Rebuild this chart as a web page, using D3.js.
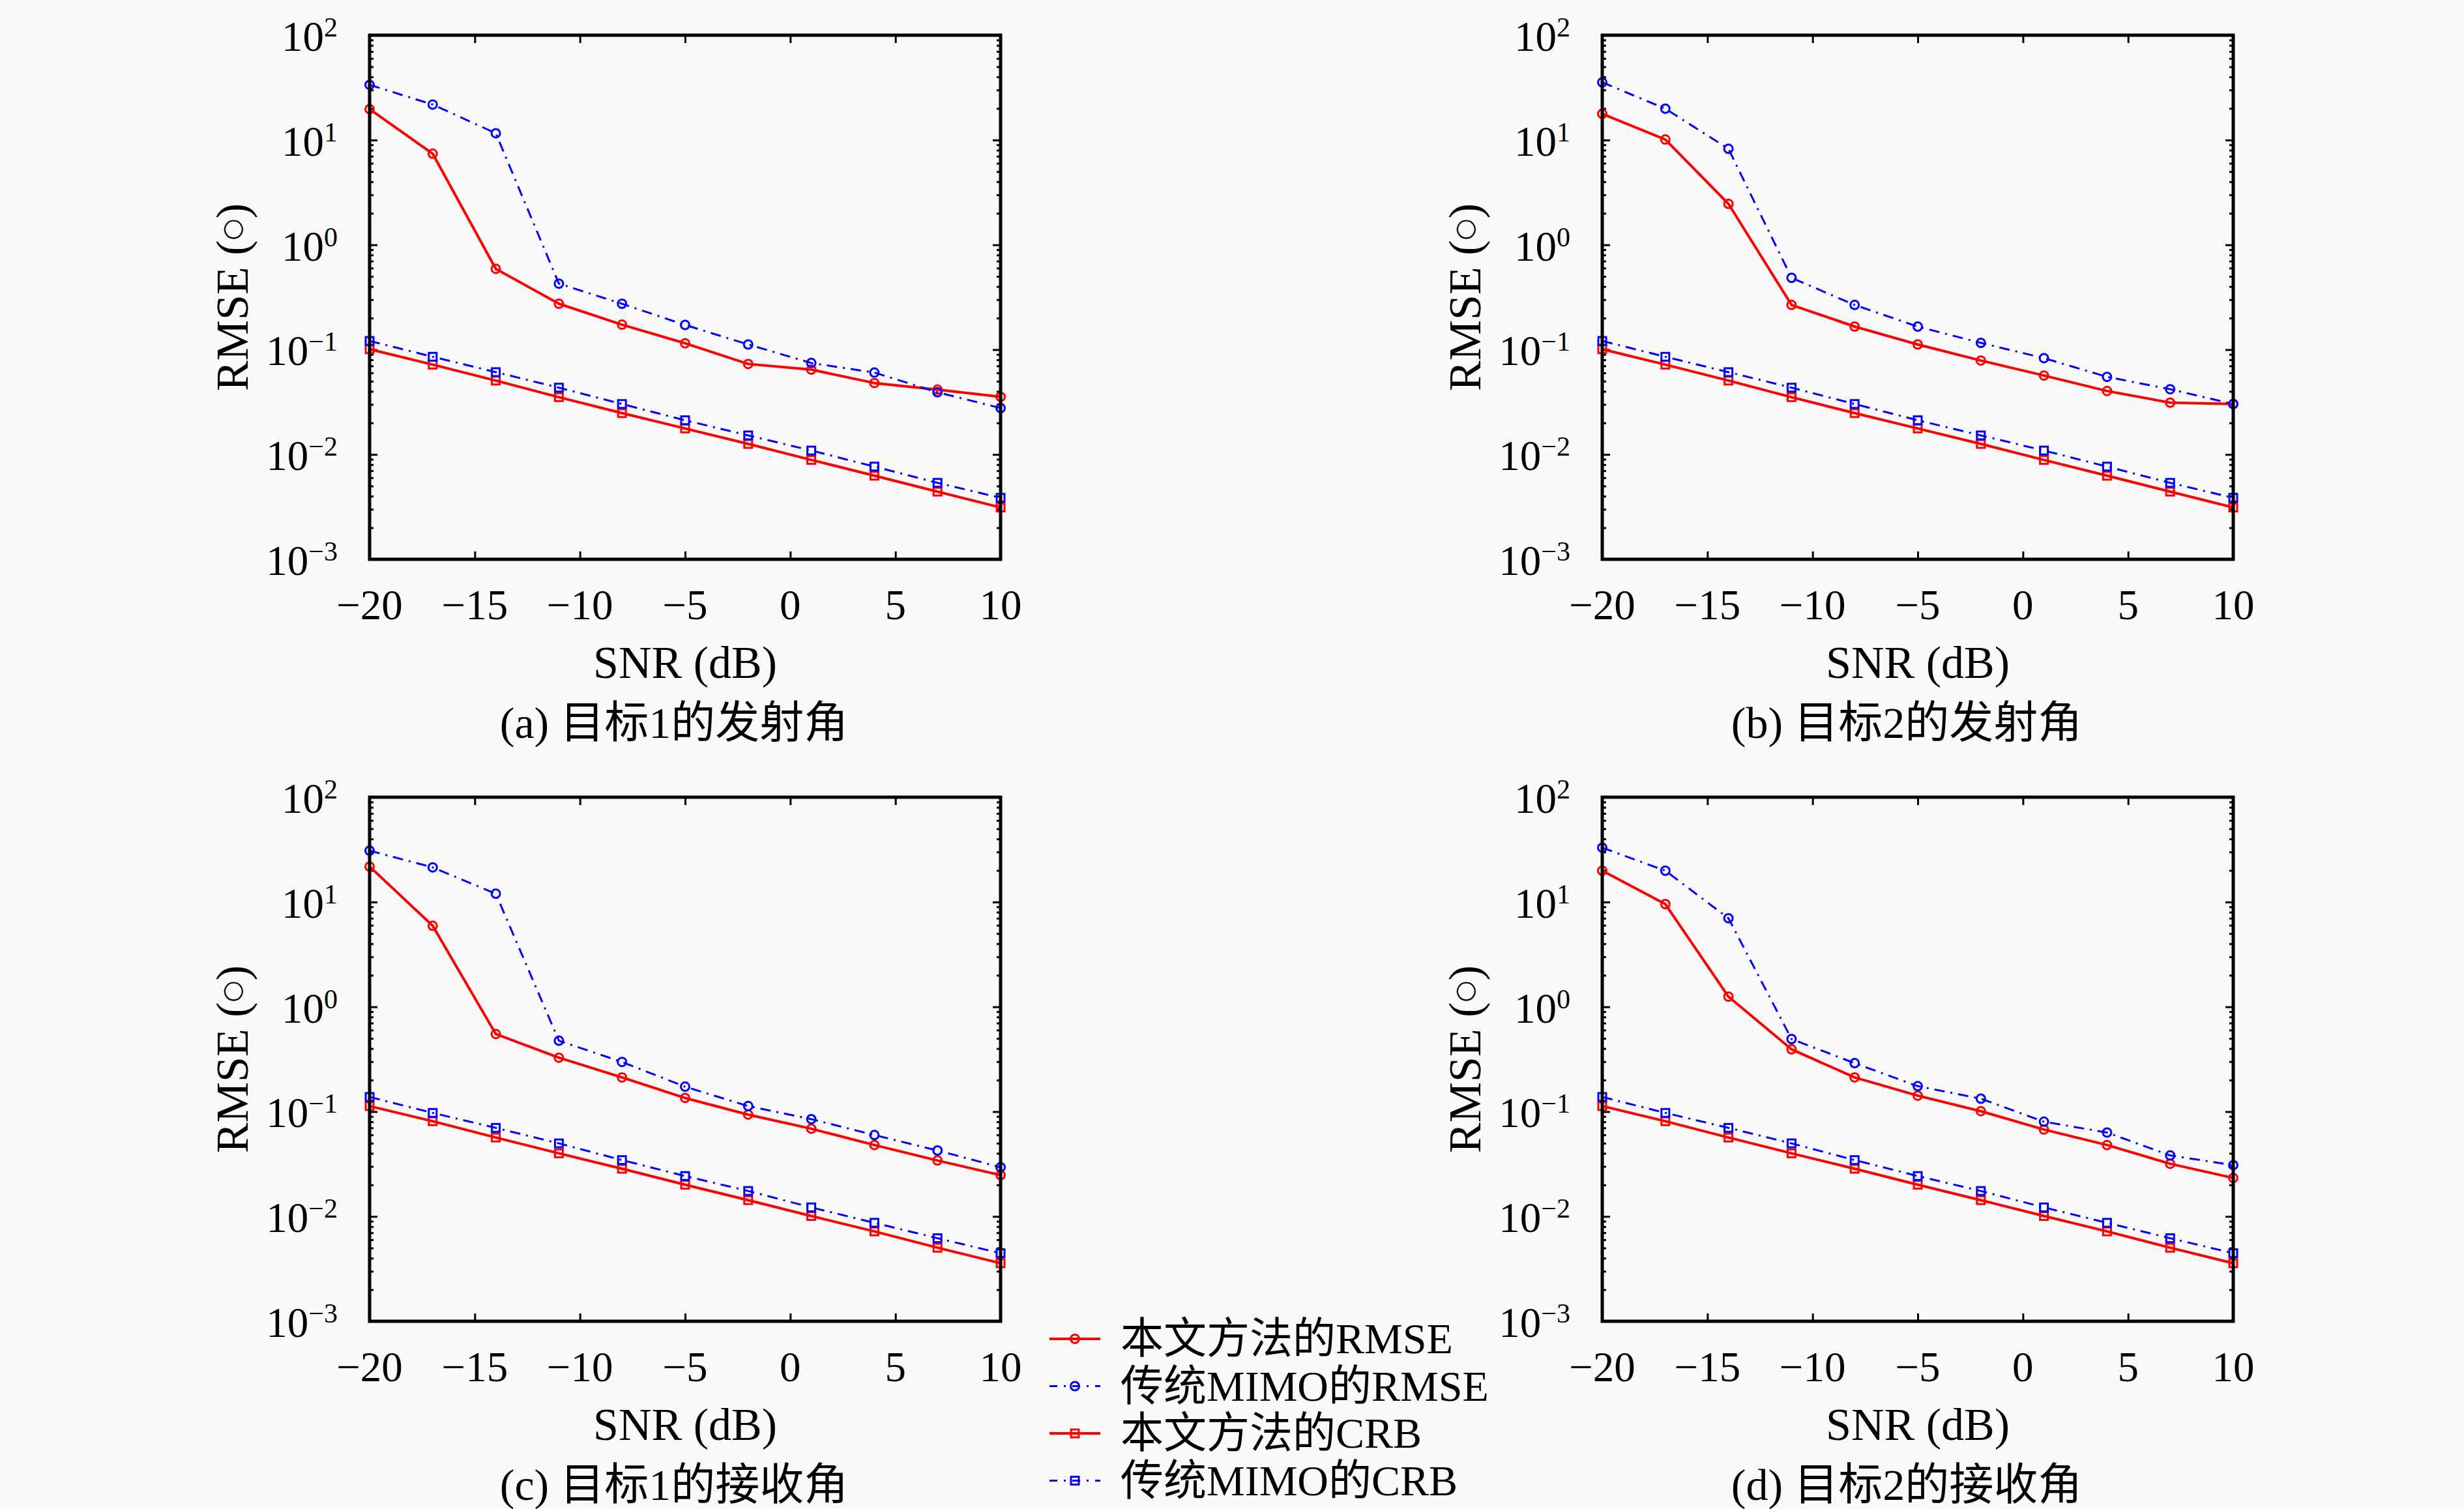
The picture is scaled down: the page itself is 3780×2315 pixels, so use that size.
<!DOCTYPE html>
<html>
<head>
<meta charset="utf-8">
<script src="https://cdn.jsdelivr.net/npm/d3@7"></script>
<style>
  body { margin: 0; background: #f9f9f9; }
  text { font-family: "Liberation Serif", "Noto Sans CJK SC", serif; fill: #000; }
</style>
</head>
<body>
<div id="chart"></div>
<script>
// SNR points (dB)
const snr = [-20, -17, -14, -11, -8, -5, -2, 1, 4, 7, 10];

// (a) target 1, transmit angle
const aOursRmse = [19.7, 7.4, 0.59, 0.274, 0.173, 0.115, 0.073, 0.0645, 0.048, 0.0415, 0.0355];
const aMimoRmse = [33.6, 21.8, 11.6, 0.426, 0.274, 0.172, 0.112, 0.0746, 0.0604, 0.0392, 0.0277];
// (b) target 2, transmit angle
const bOursRmse = [17.8, 10.1, 2.46, 0.267, 0.166, 0.112, 0.0787, 0.0566, 0.0403, 0.0312, 0.0303];
const bMimoRmse = [35.5, 19.9, 8.24, 0.484, 0.267, 0.166, 0.116, 0.083, 0.055, 0.0419, 0.0303];
// CRB for transmit angle (a, b)
const txOursCrb = [0.101, 0.072, 0.0507, 0.0352, 0.0248, 0.0177, 0.0126, 0.00887, 0.00627, 0.00442, 0.00312];
const txMimoCrb = [0.121, 0.0855, 0.061, 0.0434, 0.0303, 0.0212, 0.0152, 0.0109, 0.00766, 0.00536, 0.00386];
// (c) target 1, receive angle
const cOursRmse = [21.8, 5.93, 0.55, 0.327, 0.212, 0.135, 0.0937, 0.0687, 0.048, 0.0342, 0.0248];
const cMimoRmse = [30.9, 21.4, 12.0, 0.475, 0.298, 0.173, 0.113, 0.0848, 0.0598, 0.0426, 0.0295];
// (d) target 2, receive angle
const dOursRmse = [19.9, 9.55, 1.25, 0.393, 0.212, 0.142, 0.101, 0.0675, 0.048, 0.0318, 0.0233];
const dMimoRmse = [33.0, 19.9, 7.0, 0.493, 0.29, 0.175, 0.133, 0.0802, 0.0632, 0.0382, 0.0309];
// CRB for receive angle (c, d)
const rxOursCrb = [0.113, 0.081, 0.0566, 0.04, 0.0285, 0.0201, 0.0143, 0.0101, 0.0072, 0.00503, 0.00358];
const rxMimoCrb = [0.138, 0.0973, 0.07, 0.0498, 0.0345, 0.0243, 0.0175, 0.0122, 0.0087, 0.0062, 0.00446];

const xTicks = [-20, -15, -10, -5, 0, 5, 10];
const yTickExps = [2, 1, 0, -1, -2, -3];
const captions = ["(a) 目标1的发射角", "(b) 目标2的发射角", "(c) 目标1的接收角", "(d) 目标2的接收角"];
const legendLabels = ["本文方法的RMSE", "传统MIMO的RMSE", "本文方法的CRB", "传统MIMO的CRB"];
const xTitle = "SNR (dB)";
const yTitle = ["RMSE (", "\u25CB", ")"];

const W = 3780, H = 2315;
const red = "#ff0000", blue = "#0000ff";
const dashDot = "16,9,3,9";

// style of each series, in legend order
const styles = [
    {color: red, dash: null, marker: "circle", width: 4},
    {color: blue, dash: dashDot, marker: "circle", width: 3},
    {color: red, dash: null, marker: "square", width: 4},
    {color: blue, dash: dashDot, marker: "square", width: 3}
];

const panels = [
    {left: 567, top: 54, series: [aOursRmse, aMimoRmse, txOursCrb, txMimoCrb], caption: captions[0]},
    {left: 2458, top: 54, series: [bOursRmse, bMimoRmse, txOursCrb, txMimoCrb], caption: captions[1]},
    {left: 567, top: 1223, series: [cOursRmse, cMimoRmse, rxOursCrb, rxMimoCrb], caption: captions[2]},
    {left: 2458, top: 1223, series: [dOursRmse, dMimoRmse, rxOursCrb, rxMimoCrb], caption: captions[3]}
];
const pw = 968, ph = 804;

const svg = d3.select("#chart").append("svg")
    .attr("width", W)
    .attr("height", H)
    .style("background", "#f9f9f9");

function drawMarker(g, type, cx, cy, color) {
    if (type == "circle") {
        g.append("circle")
            .attr("cx", cx).attr("cy", cy).attr("r", 6.5)
            .attr("fill", "none")
            .attr("stroke", color).attr("stroke-width", 3);
    } else {
        g.append("rect")
            .attr("x", cx - 6).attr("y", cy - 6)
            .attr("width", 12).attr("height", 12)
            .attr("fill", "none")
            .attr("stroke", color).attr("stroke-width", 3);
    }
}

// minor log ticks 2..9 x 10^k
const minorTicks = [];
for (let k = -3; k < 2; k++) {
    for (let m = 2; m < 10; m++) minorTicks.push(m * Math.pow(10, k));
}

panels.forEach(function (p) {
    const g = svg.append("g").attr("transform", "translate(" + p.left + "," + p.top + ")");
    const x = d3.scaleLinear().domain([-20, 10]).range([0, pw]);
    const y = d3.scaleLog().domain([1e-3, 1e2]).range([ph, 0]);

    // ticks, pointing inward
    const axes = [
        {gen: d3.axisBottom(x).tickValues(xTicks), tr: "translate(0," + ph + ")", size: -12},
        {gen: d3.axisTop(x).tickValues(xTicks), tr: "translate(0,0)", size: -12},
        {gen: d3.axisLeft(y).tickValues(yTickExps.map(e => Math.pow(10, e))), tr: "translate(0,0)", size: -12},
        {gen: d3.axisRight(y).tickValues(yTickExps.map(e => Math.pow(10, e))), tr: "translate(" + pw + ",0)", size: -12},
        {gen: d3.axisLeft(y).tickValues(minorTicks), tr: "translate(0,0)", size: -6},
        {gen: d3.axisRight(y).tickValues(minorTicks), tr: "translate(" + pw + ",0)", size: -6}
    ];
    axes.forEach(function (a) {
        const ax = g.append("g")
            .attr("transform", a.tr)
            .call(a.gen.tickSize(a.size).tickFormat(""));
        ax.select(".domain").remove();
        ax.selectAll("line").attr("stroke", "#000").attr("stroke-width", 3);
    });

    // series
    const line = d3.line().x((d, i) => x(snr[i])).y(d => y(d));
    p.series.forEach(function (s, si) {
        const st = styles[si];
        g.append("path")
            .datum(s)
            .attr("d", line)
            .attr("fill", "none")
            .attr("stroke", st.color)
            .attr("stroke-width", st.width)
            .attr("stroke-dasharray", st.dash)
            .attr("stroke-linejoin", "round");
        s.forEach(function (v, i) {
            drawMarker(g, st.marker, x(snr[i]), y(v), st.color);
        });
    });

    // frame
    g.append("rect")
        .attr("x", 0).attr("y", 0)
        .attr("width", pw).attr("height", ph)
        .attr("fill", "none")
        .attr("stroke", "#000")
        .attr("stroke-width", 5);

    // x tick labels
    g.selectAll(".xlab")
        .data(xTicks)
        .enter()
        .append("text")
        .attr("x", d => x(d))
        .attr("y", ph + 92)
        .attr("text-anchor", "middle")
        .attr("font-size", "65px")
        .text(d => d < 0 ? "\u2212" + Math.abs(d) : d);

    // y tick labels 10^k
    yTickExps.forEach(function (e) {
        const t = g.append("text")
            .attr("x", -49)
            .attr("y", y(Math.pow(10, e)) + 24)
            .attr("text-anchor", "end")
            .attr("font-size", "65px");
        t.append("tspan").text("10");
        t.append("tspan")
            .attr("dy", -22)
            .attr("font-size", "42px")
            .text(e < 0 ? "\u2212" + Math.abs(e) : e);
    });

    // axis titles
    g.append("text")
        .attr("x", pw / 2)
        .attr("y", ph + 182)
        .attr("text-anchor", "middle")
        .attr("font-size", "70px")
        .text(xTitle);
    const yt = g.append("text")
        .attr("transform", "translate(-187," + (ph / 2) + ") rotate(-90)")
        .attr("text-anchor", "middle")
        .attr("font-size", "70px");
    yt.append("tspan").text(yTitle[0]);
    yt.append("tspan")
        .attr("font-family", "DejaVu Sans")
        .attr("font-size", "38px")
        .attr("dy", -12)
        .text(yTitle[1]);
    yt.append("tspan").attr("dy", 12).text(yTitle[2]);

    // caption
    g.append("text")
        .attr("x", pw / 2 - 17)
        .attr("y", ph + 274)
        .attr("text-anchor", "middle")
        .attr("font-size", "68px")
        .text(p.caption);
});

// legend
const legend = svg.append("g").attr("transform", "translate(1610,2054)");
legendLabels.forEach(function (lab, i) {
    const st = styles[i];
    const row = legend.append("g").attr("transform", "translate(0," + (i * 72.5) + ")");
    row.append("line")
        .attr("x1", 0).attr("x2", 78)
        .attr("y1", 0).attr("y2", 0)
        .attr("stroke", st.color)
        .attr("stroke-width", st.width)
        .attr("stroke-dasharray", st.dash ? "12,10,3,10" : null);
    drawMarker(row, st.marker, 39, 0, st.color);
    row.append("text")
        .attr("x", 109)
        .attr("y", 22)
        .attr("font-size", "66px")
        .text(lab);
});
</script>
</body>
</html>
